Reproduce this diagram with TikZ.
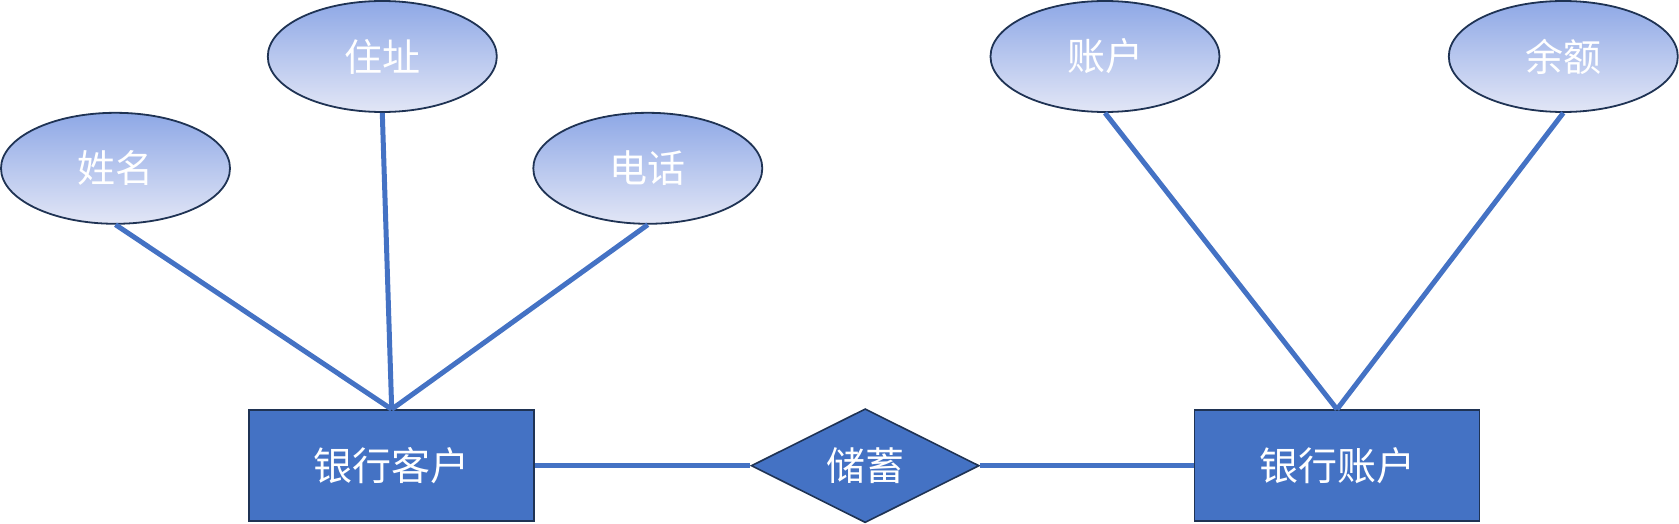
\documentclass[tikz,border=0pt]{standalone}
\usepackage{fontspec}
\setmainfont{Noto Sans CJK SC}
\usetikzlibrary{shapes.geometric}
\definecolor{mainblue}{HTML}{4472C4}
\definecolor{darknavy}{HTML}{1F3354}
\definecolor{gradtop}{HTML}{8EA8E6}
\definecolor{gradbot}{HTML}{E2E6F6}
\tikzset{
  attr/.style={ellipse, draw=darknavy, line width=1.8pt, top color=gradtop, bottom color=gradbot,
    minimum width=229pt, minimum height=111pt, inner sep=0pt, text=white, font=\fontsize{38}{38}\selectfont},
  entity/.style={rectangle, draw=darknavy, line width=1.8pt, fill=mainblue,
    minimum width=285pt, minimum height=111pt, inner sep=0pt, text=white, font=\fontsize{39}{39}\selectfont},
  rel/.style={diamond, draw=darknavy, line width=1.6pt, fill=mainblue,
    minimum width=228pt, minimum height=113pt, inner sep=0pt, text=white, font=\fontsize{39}{39}\selectfont},
  conn/.style={draw=mainblue, line width=5pt}
}
\begin{document}
\begin{tikzpicture}[x=1pt,y=-1pt]
\useasboundingbox (0,0) rectangle (1679,524);
\node[attr] (name) at (115.5,168.3) {姓名};
\node[attr] (addr) at (382.3,56.5) {住址};
\node[attr] (tel) at (647.8,168.3) {电话};
\node[attr] (acc) at (1105,56.5) {账户};
\node[attr] (bal) at (1563.3,56.5) {余额};
\node[entity] (cust) at (391.7,465.7) {银行客户};
\node[entity] (bank) at (1337,465.7) {银行账户};
\node[rel] (save) at (865.2,465.7) {储蓄};
\draw[conn] (name.south) -- (cust.north);
\draw[conn] (addr.south) -- (cust.north);
\draw[conn] (tel.south) -- (cust.north);
\draw[conn] (acc.south) -- (bank.north);
\draw[conn] (bal.south) -- (bank.north);
\draw[conn] (cust.east) -- (save.west);
\draw[conn] (save.east) -- (bank.west);
\end{tikzpicture}
\end{document}
